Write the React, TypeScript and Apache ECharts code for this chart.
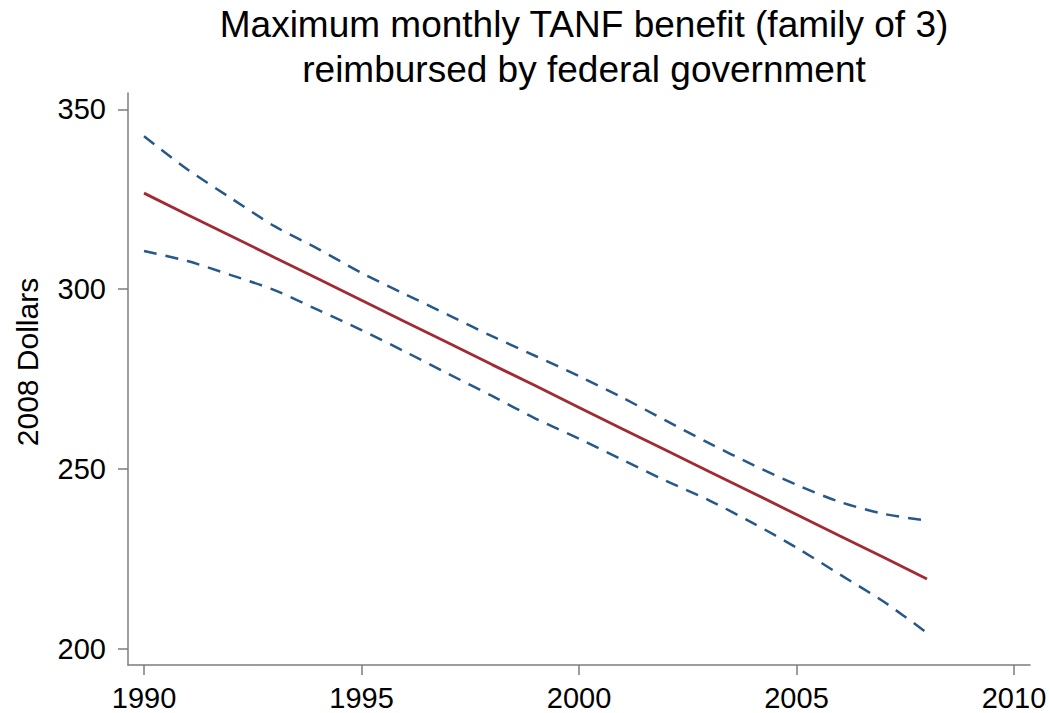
import React, { useEffect, useRef } from "react";
import * as echarts from "echarts";

const titleLines = ["Maximum monthly TANF benefit (family of 3)", "reimbursed by federal government"];
const yAxisTitle = "2008 Dollars";
const years = [1990, 1991, 1992, 1993, 1994, 1995, 1996, 1997, 1998, 1999, 2000, 2001, 2002, 2003, 2004, 2005, 2006, 2007, 2008];
const fitted = [326.7, 320.7, 314.8, 308.8, 302.9, 296.9, 290.9, 285.0, 279.0, 273.1, 267.1, 261.1, 255.2, 249.2, 243.3, 237.3, 231.3, 225.4, 219.4];
const upperBand = [342.5, 333.3, 325.3, 317.5, 311.2, 304.5, 298.6, 292.8, 286.9, 281.4, 275.8, 269.8, 263.4, 257.1, 251.1, 245.6, 240.8, 237.5, 235.6];
const lowerBand = [310.6, 307.8, 303.9, 299.7, 294.2, 288.6, 282.6, 276.4, 270.3, 264.0, 258.4, 252.5, 246.7, 241.2, 234.9, 228.1, 220.6, 213.1, 204.4];
const xTicks = [1990, 1995, 2000, 2005, 2010];
const yTicks = [200, 250, 300, 350];

const FONT = "'Liberation Sans', Arial, Helvetica, sans-serif";
const AXIS_GRAY = "#7c7c7c";

export default function App() {
  const ref = useRef<HTMLDivElement>(null);

  useEffect(() => {
    if (!ref.current) return;
    const chart = echarts.init(ref.current, null, { renderer: "svg" });
    const pairs = (vals: number[]) => years.map((y, i) => [y, vals[i]]);
    chart.setOption({
      animation: false,
      backgroundColor: "#ffffff",
      textStyle: { fontFamily: FONT },
      title: {
        text: titleLines.join("\n"),
        left: 579,
        top: -3,
        textAlign: "center",
        textStyle: { fontFamily: FONT, fontSize: 37, fontWeight: "normal", color: "#000", lineHeight: 45 },
      },
      grid: { left: 128, right: 20, top: 93, bottom: 48, containLabel: false },
      xAxis: {
        type: "value",
        min: 1989.632,
        max: 2010.368,
        splitLine: { show: false },
        axisLine: { show: true, lineStyle: { color: AXIS_GRAY, width: 1.5 } },
        axisTick: { show: true, length: 10, customValues: xTicks, lineStyle: { color: AXIS_GRAY, width: 1.5 } },
        axisLabel: { customValues: xTicks, margin: 18, fontSize: 29, color: "#000", fontFamily: FONT, formatter: (v: number) => String(v) },
      },
      yAxis: {
        type: "value",
        min: 195.45,
        max: 354.55,
        name: yAxisTitle,
        nameLocation: "middle",
        nameGap: 86,
        nameTextStyle: { fontFamily: FONT, fontSize: 30, color: "#000", padding: [0, 0, 0, 34] },
        splitLine: { show: false },
        axisLine: { show: true, lineStyle: { color: AXIS_GRAY, width: 1.5 } },
        axisTick: { show: true, length: 10, customValues: yTicks, lineStyle: { color: AXIS_GRAY, width: 1.5 } },
        axisLabel: { customValues: yTicks, margin: 22, fontSize: 29, color: "#000", fontFamily: FONT },
      },
      series: [
        {
          type: "line",
          data: pairs(upperBand),
          smooth: 0.3,
          showSymbol: false,
          lineStyle: { color: "#27588a", width: 2.5, type: [13, 9] },
        },
        {
          type: "line",
          data: pairs(lowerBand),
          smooth: 0.3,
          showSymbol: false,
          lineStyle: { color: "#27588a", width: 2.5, type: [13, 9] },
        },
        {
          type: "line",
          data: pairs(fitted),
          showSymbol: false,
          lineStyle: { color: "#a22a33", width: 2.8 },
        },
      ],
    });
    return () => chart.dispose();
  }, []);

  return <div ref={ref} style={{ width: 1050, height: 713, position: "absolute", left: 0, top: 0 }} />;
}
